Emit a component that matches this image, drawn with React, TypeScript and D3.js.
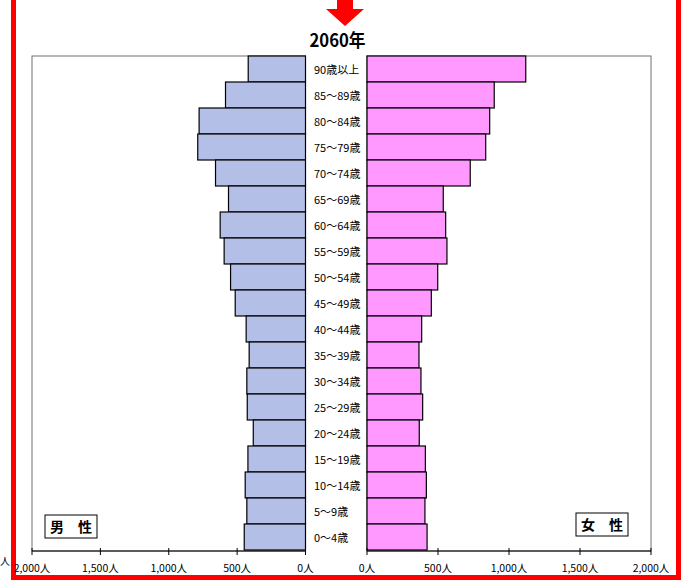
import React from "react";
import * as d3 from "d3";

const categories = [
  "90歳以上", "85～89歳", "80～84歳", "75～79歳", "70～74歳", "65～69歳",
  "60～64歳", "55～59歳", "50～54歳", "45～49歳", "40～44歳", "35～39歳",
  "30～34歳", "25～29歳", "20～24歳", "15～19歳", "10～14歳", "5～9歳", "0～4歳",
];
const male = [419, 585, 778, 788, 658, 563, 624, 595, 548, 514, 434, 412, 429, 426, 382, 421, 441, 429, 448];
const female = [1118, 896, 864, 836, 727, 537, 554, 563, 498, 453, 385, 366, 380, 392, 368, 411, 418, 408, 423];
const tickValues = [0, 500, 1000, 1500, 2000];
const title = "2060年";
const maleLabel = "男　性";
const femaleLabel = "女　性";

const W = 691;
const H = 580;
const FONT = "'Noto Sans CJK JP', 'Noto Sans', sans-serif";

export default function App() {
  const yTop = 56;
  const yBottom = 551;
  const y = d3.scaleBand<string>().domain(categories).range([yTop, yBottom - 1]).padding(0);
  const xm = d3.scaleLinear().domain([0, 2000]).range([305.5, 32]);
  const xf = d3.scaleLinear().domain([0, 2000]).range([367, 651]);
  const fmt = (v: number) => d3.format(",")(v) + "人";

  const axisY = yBottom;

  return (
    <svg width={W} height={H} style={{ position: "absolute", left: 0, top: 0, background: "#fff" }} fontFamily={FONT}>
      <rect x={0} y={0} width={W} height={H} fill="#fff" />
      {/* red border */}
      <rect x={13.5} y={-10} width={665} height={587.5} fill="none" stroke="#ff0000" strokeWidth={5} />
      {/* arrow */}
      <polygon points="337,0 353,0 353,9 364,9 345,26 326,9 337,9" fill="#ff0000" />
      <text x={337.5} y={47} textAnchor="middle" fontSize={18} fontWeight="bold" textLength={56} lengthAdjust="spacingAndGlyphs">{title}</text>

      {/* panel frames */}
      <rect x={xm(2000)} y={yTop} width={xm(0) - xm(2000)} height={yBottom - yTop} fill="none" stroke="#707070" strokeWidth={1} />
      <rect x={xf(0)} y={yTop} width={xf(2000) - xf(0)} height={yBottom - yTop} fill="none" stroke="#707070" strokeWidth={1} />

      {/* male bars */}
      {categories.map((c, i) => (
        <rect key={"m" + c} x={xm(male[i])} y={y(c)!} width={xm(0) - xm(male[i])} height={y.bandwidth()}
          fill="#b4bfe7" stroke="#000" strokeWidth={1.2} />
      ))}
      {/* female bars */}
      {categories.map((c, i) => (
        <rect key={"f" + c} x={xf(0)} y={y(c)!} width={xf(female[i]) - xf(0)} height={y.bandwidth()}
          fill="#ff99ff" stroke="#000" strokeWidth={1.2} />
      ))}

      {/* category labels */}
      {categories.map((c) => (
        <text key={"l" + c} x={314} y={y(c)! + y.bandwidth() / 2 + 4.5} fontSize={11} fill="#000">{c}</text>
      ))}

      {/* axes */}
      <line x1={xm(2000)} x2={xm(0)} y1={axisY} y2={axisY} stroke="#000" strokeWidth={1.2} />
      <line x1={xf(0)} x2={xf(2000)} y1={axisY} y2={axisY} stroke="#000" strokeWidth={1.2} />
      {tickValues.map((v) => (
        <g key={"tm" + v}>
          <line x1={xm(v)} x2={xm(v)} y1={axisY - 3} y2={axisY + 4} stroke="#000" strokeWidth={1} />
          <text x={xm(v)} y={572} textAnchor="middle" fontSize={10.5}>{fmt(v)}</text>
        </g>
      ))}
      {tickValues.map((v) => (
        <g key={"tf" + v}>
          <line x1={xf(v)} x2={xf(v)} y1={axisY - 3} y2={axisY + 4} stroke="#000" strokeWidth={1} />
          <text x={xf(v)} y={572} textAnchor="middle" fontSize={10.5}>{fmt(v)}</text>
        </g>
      ))}
      {/* fragment from neighbouring chart */}
      <text x={0} y={565} fontSize={10}>人</text>

      {/* sex labels */}
      <rect x={45} y={515} width={52} height={23} fill="#fff" stroke="#000" strokeWidth={1} />
      <text x={71} y={532} textAnchor="middle" fontSize={14} fontWeight="bold">{maleLabel}</text>
      <rect x={576} y={513} width={52} height={23} fill="#fff" stroke="#000" strokeWidth={1} />
      <text x={602} y={530} textAnchor="middle" fontSize={14} fontWeight="bold">{femaleLabel}</text>
    </svg>
  );
}
